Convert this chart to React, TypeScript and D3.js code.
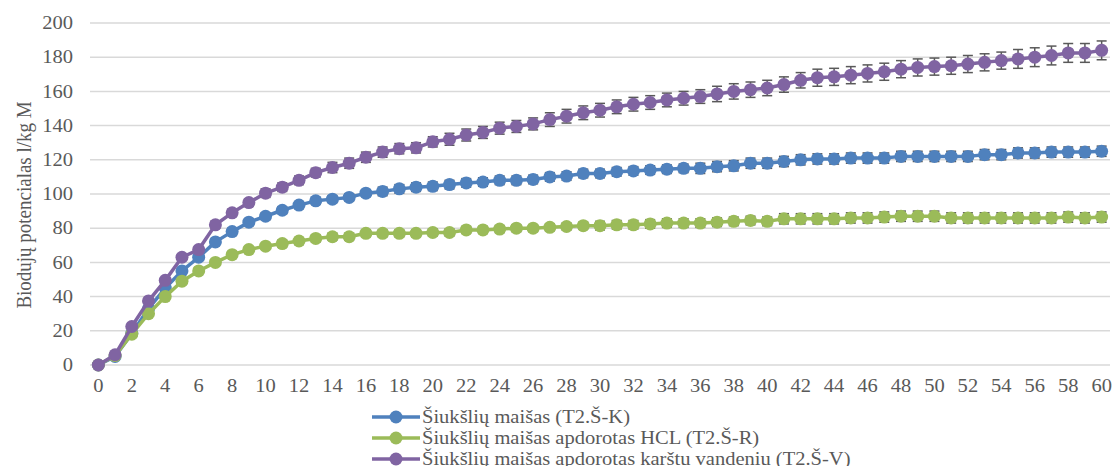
import React from "react";
import * as d3 from "d3";

const days = [0, 1, 2, 3, 4, 5, 6, 7, 8, 9, 10, 11, 12, 13, 14, 15, 16, 17, 18, 19, 20,
  21, 22, 23, 24, 25, 26, 27, 28, 29, 30, 31, 32, 33, 34, 35, 36, 37, 38, 39, 40,
  41, 42, 43, 44, 45, 46, 47, 48, 49, 50, 51, 52, 53, 54, 55, 56, 57, 58, 59, 60];

// T2.Š-K
const seriesK = [0, 5, 18.5, 33, 45, 55, 63, 72, 78, 83.5, 87, 90.5, 93.5, 96, 97, 98, 100.5, 101.5, 103, 104, 104.5,
  105.5, 106.5, 107, 108, 108, 108.5, 110, 110.5, 112, 112, 113, 113.5, 114, 114.5, 115, 115, 116, 116.5, 118, 118,
  119, 120, 120.5, 120.5, 121, 121, 121, 122, 122, 122, 122, 122, 123, 123, 124, 124, 124.5, 124.5, 124.5, 125];
const errK = [0, 0.5, 1, 1, 1.5, 1.5, 1.5, 1.5, 2, 2, 2, 2, 2, 2, 2, 2, 2, 2.5, 2.5, 2.5, 2.5,
  2.5, 2.5, 2.5, 2.5, 2.5, 2.5, 2.5, 2.5, 2.5, 2.5, 2.5, 2.5, 2.5, 2.5, 2.5, 3, 3, 3, 3, 3,
  3, 3, 3, 3, 3, 3, 3, 3, 3, 3, 3, 3, 3, 3, 3, 3, 3, 3, 3, 3];

// T2.Š-R
const seriesR = [0, 5.5, 18, 30, 40, 49, 55, 60, 64.5, 67.5, 69.5, 71, 72.5, 74, 75, 75, 77, 77, 77, 77, 77.5,
  77.5, 79, 79, 79.5, 80, 80, 80.5, 81, 81.5, 81.5, 82, 82, 82.5, 83, 83, 83, 83.5, 84, 84.5, 84,
  85.5, 85.5, 85.5, 85.5, 86, 86, 86.5, 87, 87, 87, 86, 86, 86, 86, 86, 86, 86, 86.5, 86, 86.5];
const errR = [0, 0.5, 0.5, 1, 1, 1, 1.5, 1.5, 1.5, 1.5, 1.5, 2, 2, 2, 2, 2, 2, 2, 2, 2, 2,
  2, 2, 2, 2, 2, 2, 2, 2, 2, 2.5, 2.5, 2.5, 2.5, 2.5, 2.5, 2.5, 2.5, 2.5, 2.5, 2.5,
  3, 3, 3, 3, 3, 3, 3, 3, 3, 3, 3, 3, 3, 3, 3, 3, 3, 3, 3, 3];

// T2.Š-V
const seriesV = [0, 6, 22.5, 37.5, 49.5, 63, 67.5, 82, 89, 95, 100.5, 104, 108, 112.5, 115.5, 118, 121.5, 124.5, 126.5, 127, 130.5,
  132, 134.5, 136, 138.5, 139.5, 141, 143.5, 145.5, 147.5, 149, 151, 152.5, 153.5, 155, 156, 157, 158.5, 160, 161, 162,
  164, 166.5, 168, 168.5, 169.5, 170.5, 171.5, 173, 174, 174.5, 175, 176, 177, 178, 179, 180, 181, 182.5, 182.5, 184];
const errV = [0, 0.5, 1, 1, 1.5, 1.5, 1.5, 2, 2, 2, 2.5, 2.5, 2.5, 2.5, 3, 3, 3, 3, 3, 3, 3,
  3.5, 3.5, 3.5, 3.5, 3.5, 3.5, 4, 4, 4, 4, 4, 4, 4, 4, 4, 4, 4.5, 4.5, 4.5, 4.5,
  4.5, 4.5, 5, 5, 5, 5, 5, 5, 5, 5, 5, 5, 5, 5, 5.5, 5.5, 5.5, 5.5, 5.5, 5.5];

const seriesNames = [
  "Šiukšlių maišas (T2.Š-K)",
  "Šiukšlių maišas apdorotas HCL (T2.Š-R)",
  "Šiukšlių maišas apdorotas karštu vandeniu (T2.Š-V)",
];
const seriesColors = ["#4f81bd", "#9bbb59", "#8064a2"];
const yTicks = [0, 20, 40, 60, 80, 100, 120, 140, 160, 180, 200];
const xTickDays = [0, 2, 4, 6, 8, 10, 12, 14, 16, 18, 20, 22, 24, 26, 28, 30,
  32, 34, 36, 38, 40, 42, 44, 46, 48, 50, 52, 54, 56, 58, 60];
const yTitle = "Biodujų potencialas l/kg M";

const W = 1112;
const H = 466;
const left = 90;
const right = 1110;
const top = 23;
const bottom = 365;
const font = "'Liberation Serif', 'Times New Roman', serif";
const textColor = "#595959";
const sx = 1.14; // text in the picture is a bit wider than plain Times

export default function App() {
  const x = d3.scalePoint<number>().domain(days).range([left, right]).padding(0.5);
  const y = d3.scaleLinear().domain([0, 200]).range([bottom, top]);

  const all = [
    { values: seriesK, err: errK },
    { values: seriesR, err: errR },
    { values: seriesV, err: errV },
  ];

  const line = d3.line<number>()
    .x((d, i) => x(days[i]) as number)
    .y((d) => y(d));

  return (
    <svg width={W} height={H} style={{ position: "absolute", left: 0, top: 0, background: "#fff" }}>
      {yTicks.map((t) => (
        <g key={"g" + t}>
          <line x1={left} x2={right} y1={y(t)} y2={y(t)} stroke="#d9d9d9" strokeWidth={1.5} />
          <text transform={`translate(73,${y(t)}) scale(${sx},1)`} dy="0.34em" textAnchor="end"
            fontFamily={font} fontSize={18} fill={textColor}>{t}</text>
        </g>
      ))}
      {xTickDays.map((d) => (
        <text key={"x" + d} transform={`translate(${x(d)},${bottom + 27}) scale(${sx},1)`}
          textAnchor="middle" fontFamily={font} fontSize={18} fill={textColor}>{d}</text>
      ))}
      <text transform={`translate(31,${(top + bottom) / 2 + 11}) scale(${sx},1) rotate(-90)`}
        textAnchor="middle" fontFamily={font} fontSize={19} fill={textColor}>{yTitle}</text>

      {all.map((s, si) => (
        <g key={"s" + si}>
          {s.values.map((v, i) => {
            const e = s.err[i];
            if (!e) return null;
            const cx = x(days[i]) as number;
            return (
              <g key={"e" + i} stroke="#595959" strokeWidth={1.5}>
                <line x1={cx} x2={cx} y1={y(v - e)} y2={y(v + e)} />
                <line x1={cx - 5} x2={cx + 5} y1={y(v - e)} y2={y(v - e)} />
                <line x1={cx - 5} x2={cx + 5} y1={y(v + e)} y2={y(v + e)} />
              </g>
            );
          })}
          <path d={line(s.values) || ""} fill="none" stroke={seriesColors[si]} strokeWidth={3.5}
            strokeLinejoin="round" />
          {s.values.map((v, i) => (
            <circle key={"c" + i} cx={x(days[i])} cy={y(v)} r={6.5} fill={seriesColors[si]} />
          ))}
        </g>
      ))}

      {seriesNames.map((name, i) => {
        const ly = 417 + i * 21;
        return (
          <g key={"l" + i}>
            <line x1={372} x2={420} y1={ly} y2={ly} stroke={seriesColors[i]} strokeWidth={3.5} />
            <circle cx={396} cy={ly} r={6.5} fill={seriesColors[i]} />
            <text transform={`translate(422,${ly}) scale(${sx},1)`} dy="0.34em" fontFamily={font}
              fontSize={18} fill={textColor}>{name}</text>
          </g>
        );
      })}
    </svg>
  );
}
